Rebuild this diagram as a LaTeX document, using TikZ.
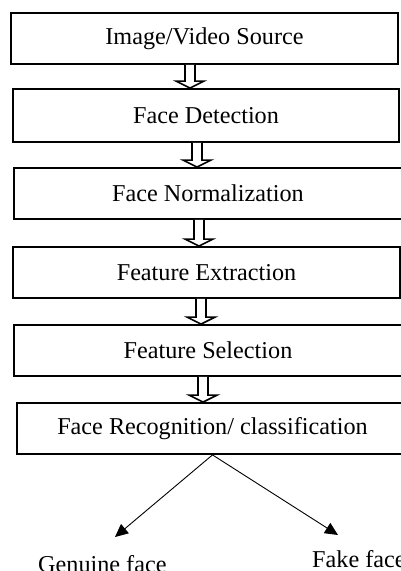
\documentclass[tikz,border=0pt]{standalone}
\usepackage{fontspec}
\setmainfont{Liberation Serif}
\usetikzlibrary{arrows.meta,calc}
\begin{document}
\begin{tikzpicture}[x=1pt,y=-1pt,
  stage/.style={draw,line width=1.8pt,fill=white,inner sep=0pt,
    font=\fontsize{24.2}{29}\selectfont},
  hollow/.style={draw,line width=1.6pt,fill=white,line join=miter},
  outline/.style={line width=0.9pt,-{Triangle[length=13pt,width=12pt]}},
  lbl/.style={anchor=base west,inner sep=0pt,font=\fontsize{24.2}{29}\selectfont}]
\useasboundingbox (0,0) rectangle (400,571);
\node[stage,minimum width=387pt,minimum height=51pt] (b1) at (204.5,38.5) {Image/Video Source};
\node[stage,minimum width=386pt,minimum height=53pt] (b2) at (206,115.5) {Face Detection};
\node[stage,minimum width=388pt,minimum height=51pt] (b3) at (208,193.5) {Face Normalization};
\node[stage,minimum width=387pt,minimum height=51pt] (b4) at (206.5,272.5) {Feature Extraction};
\node[stage,minimum width=388pt,minimum height=51pt] (b5) at (208,350.5) {Feature Selection};
\node[stage,minimum width=391pt,minimum height=51pt] (b6) at (212.5,428.5) {Face Recognition/ classification};
\foreach \a/\b/\xc in {b1/b2/190,b2/b3/197,b3/b4/199,b4/b5/201,b5/b6/203}{
  \path[hollow] let \p1=(\a.south), \p2=(\b.north) in
    (\xc pt-5pt,\y1) -- (\xc pt-5pt,\y2+7pt) -- (\xc pt-14pt,\y2+7pt) -- (\xc pt,\y2)
    -- (\xc pt+14pt,\y2+7pt) -- (\xc pt+5pt,\y2+7pt) -- (\xc pt+5pt,\y1);
}
\coordinate (gtip) at (115,537);
\coordinate (ftip) at (338,535);
\draw[outline] (b6.south) -- (gtip);
\draw[outline] (b6.south) -- (ftip);
\node[lbl] (genuine) at (38,572) {Genuine face};
\node[lbl] (fake) at (312,567) {Fake face};
\end{tikzpicture}
\end{document}
